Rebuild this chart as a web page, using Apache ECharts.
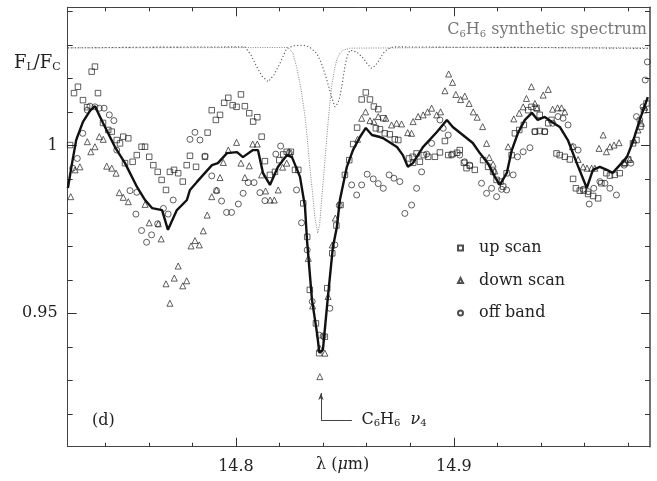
<!DOCTYPE html>
<html><head><meta charset="utf-8">
<script src="https://cdn.jsdelivr.net/npm/echarts@6/dist/echarts.min.js"></script>
<style>html,body{margin:0;padding:0;background:#fff}#c{width:657px;height:481px}</style>
</head><body><div id="c"></div>
<script>
// ---- axis ranges and ticks ----
const X_RANGE = [14.7228, 14.99];
const Y_RANGE = [0.9102, 1.0413];
const X_MINOR_TICKS = [14.74, 14.98, 0.02];   // first, last, step
const X_MAJOR_TICKS = [14.8, 14.9, 0.1];
const Y_MINOR_TICKS = [0.92, 1.04, 0.01];
const Y_MAJOR_TICKS = [0.95, 1.0, 0.05];
const X_LABELS = [14.8, 14.9];
const Y_LABELS = [0.95, 1.0];
const SERIES_NAMES = ['up scan','down scan','off band'];

// ---- up scan (squares) ----
const upScan = [
[14.7239,1.0002],[14.7257,1.0157],[14.7275,1.0176],[14.7298,1.0136],[14.7317,1.0115],[14.7338,1.0221],[14.7353,1.0236],
[14.7367,1.0157],[14.7390,1.0068],[14.7414,1.0047],[14.7430,1.0042],[14.7453,1.0017],[14.7468,1.0007],[14.7483,1.0027],
[14.7506,1.0022],[14.7491,0.9948],[14.7526,0.9952],[14.7545,0.9972],[14.7567,0.9997],[14.7583,0.9997],[14.7602,0.9967],
[14.7621,0.9942],[14.7641,0.9922],[14.7659,0.9898],[14.7679,0.9868],[14.7697,0.9922],[14.7716,0.9928],[14.7735,0.9918],
[14.7756,0.9893],[14.7774,0.9942],[14.7789,0.9970],[14.7817,0.9937],[14.7858,0.9967],[14.7870,1.0039],[14.7889,1.0106],
[14.7908,1.0077],[14.7927,1.0092],[14.7946,1.0128],[14.7965,1.0143],[14.7985,1.0121],[14.8003,1.0116],[14.8023,1.0153],
[14.8041,1.0118],[14.8061,1.0097],[14.8079,1.0072],[14.8098,1.0085],[14.8118,1.0027],[14.8133,0.9954],[14.8156,0.9913],
[14.8179,0.9922],[14.8199,0.9957],[14.8217,0.9974],[14.8233,0.9982],[14.8252,0.9982],[14.8271,0.9928],[14.8286,0.9928],
[14.8309,0.9828],[14.8327,0.9728],[14.8339,0.9570],[14.8367,0.9470],[14.8382,0.9381],[14.8408,0.9430],[14.8419,0.9575],
[14.8442,0.9679],[14.8461,0.9762],[14.8480,0.9823],[14.8500,0.9913],[14.8520,0.9957],[14.8538,1.0005],[14.8556,1.0054],
[14.8577,1.0138],[14.8596,1.0159],[14.8615,1.0138],[14.8633,1.0117],[14.8653,1.0109],[14.8642,1.0052],[14.8661,1.0049],
[14.8676,1.0082],[14.8683,1.0037],[14.8706,1.0034],[14.8729,1.0019],[14.8745,1.0017],[14.8794,0.9962],[14.8811,0.9967],
[14.8813,0.9949],[14.8829,0.9977],[14.8844,0.9952],[14.8862,0.9972],[14.8882,0.9967],[14.8913,0.9967],[14.8936,0.9980],
[14.8959,1.0014],[14.8974,0.9972],[14.8994,0.9975],[14.9015,0.9979],[14.9027,0.9987],[14.9046,0.9949],[14.9058,0.9933],
[14.9073,0.9940],[14.9096,0.9928],[14.9134,0.9957],[14.9157,0.9937],[14.9180,0.9922],[14.9196,0.9898],[14.9214,0.9893],
[14.9226,0.9878],[14.9242,0.9918],[14.9265,0.9972],[14.9280,1.0037],[14.9300,1.0047],[14.9321,1.0062],[14.9341,1.0106],
[14.9356,1.0116],[14.9379,1.0113],[14.9394,1.0092],[14.9372,1.0042],[14.9394,1.0044],[14.9417,1.0042],[14.9433,1.0067],
[14.9448,1.0077],[14.9471,0.9977],[14.9486,0.9972],[14.9509,0.9967],[14.9532,0.9959],[14.9547,0.9901],[14.9560,0.9873],
[14.9578,0.9866],[14.9596,0.9866],[14.9616,0.9856],[14.9639,0.9850],[14.9662,0.9843],[14.9677,0.9888],[14.9700,0.9918],
[14.9716,0.9911],[14.9738,0.9913],[14.9761,0.9918],[14.9784,0.9949],[14.9800,0.9959],[14.9822,1.0007],[14.9838,1.0017],
[14.9856,1.0057],[14.9872,1.0106],[14.9884,1.0126]
];

// ---- down scan (triangles) ----
const downScan = [
[14.7242,0.9848],[14.7262,0.9928],[14.7284,0.9937],[14.7318,1.0012],[14.7334,0.9982],[14.7353,0.9997],[14.7373,1.0027],
[14.7391,1.0019],[14.7407,0.9939],[14.7430,0.9933],[14.7450,0.9918],[14.7465,0.9860],[14.7483,0.9846],[14.7506,0.9833],
[14.7583,0.9825],[14.7602,0.9770],[14.7644,0.9767],[14.7657,0.9722],[14.7679,0.9588],[14.7697,0.9530],[14.7717,0.9605],
[14.7735,0.9641],[14.7756,0.9582],[14.7774,0.9597],[14.7794,0.9701],[14.7812,0.9717],[14.7832,0.9704],[14.7850,0.9746],
[14.7868,0.9793],[14.7889,0.9848],[14.7911,0.9868],[14.7927,0.9905],[14.7942,0.9950],[14.7965,0.9987],[14.8003,1.0010],
[14.8023,0.9948],[14.8041,0.9905],[14.8061,0.9940],[14.8077,1.0005],[14.8098,1.0005],[14.8118,0.9913],[14.8136,0.9865],
[14.8157,0.9838],[14.8176,0.9838],[14.8194,0.9868],[14.8214,0.9936],[14.8233,0.9948],[14.8248,0.9977],[14.8332,0.9664],
[14.8352,0.9522],[14.8385,0.9396],[14.8385,0.9311],[14.8408,0.9381],[14.8423,0.9550],[14.8442,0.9704],[14.8456,0.9784],
[14.8558,1.0019],[14.8577,1.0082],[14.8595,1.0101],[14.8615,1.0075],[14.8633,1.0072],[14.8653,1.0087],[14.8688,1.0082],
[14.8714,1.0062],[14.8737,1.0067],[14.8760,1.0065],[14.8788,1.0039],[14.8806,1.0037],[14.8813,1.0072],[14.8836,1.0087],
[14.8859,1.0092],[14.8879,1.0101],[14.8898,1.0112],[14.8921,1.0092],[14.8939,1.0101],[14.8959,1.0164],[14.8976,1.0214],
[14.8994,1.0189],[14.9009,1.0153],[14.9031,1.0138],[14.9050,1.0148],[14.9070,1.0126],[14.9089,1.0101],[14.9107,1.0085],
[14.9132,1.0057],[14.9150,1.0007],[14.9162,0.9965],[14.9180,0.9945],[14.9188,0.9925],[14.9249,0.9997],[14.9275,1.0080],
[14.9300,1.0097],[14.9318,1.0116],[14.9333,1.0141],[14.9356,1.0176],[14.9372,1.0126],[14.9382,1.0112],[14.9410,1.0151],
[14.9433,1.0168],[14.9453,1.0109],[14.9476,1.0113],[14.9494,1.0113],[14.9509,1.0101],[14.9544,0.9997],[14.9570,0.9959],
[14.9593,0.9937],[14.9611,0.9933],[14.9632,0.9933],[14.9647,0.9933],[14.9666,0.9992],[14.9685,1.0032],[14.9700,0.9982],
[14.9716,0.9997],[14.9735,1.0002],[14.9758,1.0009],[14.9784,0.9948],[14.9807,0.9959],[14.9826,1.0017],[14.9845,1.0047],
[14.9861,1.0067],[14.9876,1.0115]
];

// ---- off band (circles) ----
const offBand = [
[14.7251,0.9933],[14.7272,0.9962],[14.7297,1.0037],[14.7318,1.0106],[14.7330,1.0118],[14.7353,1.0116],[14.7373,1.0112],
[14.7395,1.0112],[14.7419,1.0092],[14.7440,1.0075],[14.7453,0.9987],[14.7514,0.9866],[14.7545,0.9861],[14.7541,0.9796],
[14.7567,0.9747],[14.7590,0.9712],[14.7613,0.9734],[14.7641,0.9767],[14.7667,0.9813],[14.7689,0.9796],[14.7712,0.9838],
[14.7789,1.0019],[14.7812,1.0040],[14.7835,1.0017],[14.7858,0.9969],[14.7889,0.9910],[14.7911,0.9866],[14.7934,0.9835],
[14.7957,0.9801],[14.7980,0.9801],[14.8011,0.9826],[14.8033,0.9858],[14.8056,0.9890],[14.8083,0.9890],[14.8110,0.9860],
[14.8133,0.9836],[14.8183,0.9975],[14.8205,0.9999],[14.8245,0.9979],[14.8278,0.9868],[14.8301,0.9770],[14.8327,0.9689],
[14.8350,0.9535],[14.8382,0.9435],[14.8400,0.9432],[14.8431,0.9515],[14.8454,0.9704],[14.8474,0.9822],[14.8531,0.9883],
[14.8554,0.9853],[14.8577,0.9883],[14.8602,0.9915],[14.8630,0.9901],[14.8653,0.9887],[14.8676,0.9873],[14.8703,0.9913],
[14.8725,0.9903],[14.8752,0.9893],[14.8775,0.9798],[14.8806,0.9823],[14.8829,0.9873],[14.8852,0.9922],[14.8875,0.9975],
[14.8898,1.0007],[14.8936,1.0077],[14.8951,1.0052],[14.8974,1.0032],[14.8989,0.9972],[14.9027,0.9972],[14.9050,0.9952],
[14.9073,0.9942],[14.9127,0.9888],[14.9150,0.9858],[14.9173,0.9873],[14.9196,0.9848],[14.9219,0.9870],[14.9242,0.9868],
[14.9272,0.9913],[14.9292,0.9967],[14.9318,0.9982],[14.9349,0.9994],[14.9372,1.0042],[14.9417,1.0042],[14.9453,1.0067],
[14.9478,1.0087],[14.9501,1.0082],[14.9524,1.0062],[14.9547,0.9997],[14.9570,0.9987],[14.9593,0.9870],[14.9616,0.9863],
[14.9621,0.9826],[14.9642,0.9873],[14.9670,0.9893],[14.9693,0.9888],[14.9716,0.9873],[14.9746,0.9853],[14.9781,0.9942],
[14.9812,0.9948],[14.9838,1.0087],[14.9853,1.0077],[14.9868,1.0116],[14.9878,1.0196],[14.9888,1.0250]
];

// ---- average (thick line) ----
const average = [
[14.7229,0.9874],[14.7248,0.9948],[14.7267,1.0017],[14.7298,1.0071],[14.7330,1.0104],[14.7353,1.0118],[14.7390,1.0068],
[14.7445,0.9996],[14.7491,0.9948],[14.7546,0.9877],[14.7583,0.9838],[14.7615,0.9814],[14.7661,0.9808],[14.7688,0.9749],
[14.7729,0.9808],[14.7775,0.9838],[14.7789,0.9868],[14.7821,0.9892],[14.7858,0.9919],[14.7890,0.9942],[14.7917,0.9948],
[14.7959,0.9978],[14.8005,0.9981],[14.8032,0.9966],[14.8078,0.9987],[14.8101,0.9987],[14.8124,0.9919],[14.8156,0.9883],
[14.8193,0.9937],[14.8234,0.9972],[14.8257,0.9966],[14.8294,0.9907],[14.8317,0.9817],[14.8326,0.9719],[14.8349,0.9540],
[14.8372,0.9441],[14.8383,0.9382],[14.8399,0.9391],[14.8422,0.9549],[14.8445,0.9698],[14.8463,0.9757],[14.8477,0.9838],
[14.8509,0.9937],[14.8537,0.9987],[14.8569,1.0026],[14.8596,1.0053],[14.8624,1.0032],[14.8661,1.0026],[14.8674,1.0023],
[14.8739,0.9996],[14.8766,0.9972],[14.8789,0.9937],[14.8812,0.9948],[14.8858,0.9996],[14.8922,1.0041],[14.8968,1.0077],
[14.8995,1.0056],[14.9041,1.0032],[14.9087,1.0008],[14.9119,0.9978],[14.9156,0.9948],[14.9188,0.9907],[14.9211,0.9883],
[14.9243,0.9919],[14.9266,0.9987],[14.9294,1.0038],[14.9326,1.0077],[14.9358,1.0098],[14.9385,1.0077],[14.9417,1.0086],
[14.9450,1.0071],[14.9486,1.0056],[14.9523,1.0017],[14.9564,0.9948],[14.9610,0.9874],[14.9638,0.9928],[14.9670,0.9937],
[14.9702,0.9928],[14.9729,0.9919],[14.9761,0.9942],[14.9794,0.9966],[14.9821,1.0011],[14.9853,1.0077],[14.9890,1.0145]
];

// ---- synthetic spectrum (two dotted curves) ----
const synthA = [
[14.7229,1.0292],[14.7606,1.0294],[14.8041,1.0295],[14.8069,1.0271],[14.8095,1.0236],[14.8119,1.0208],[14.8148,1.0191],
[14.8174,1.0211],[14.8202,1.0246],[14.8233,1.0291],[14.8271,1.0299],[14.8309,1.0300],[14.8339,1.0294],[14.8370,1.0276],
[14.8390,1.0250],[14.8408,1.0216],[14.8424,1.0181],[14.8439,1.0146],[14.8454,1.0116],[14.8468,1.0127],[14.8477,1.0146],
[14.8489,1.0190],[14.8500,1.0236],[14.8511,1.0268],[14.8523,1.0285],[14.8554,1.0280],[14.8584,1.0261],[14.8603,1.0244],
[14.8622,1.0231],[14.8638,1.0238],[14.8653,1.0251],[14.8676,1.0276],[14.8697,1.0289],[14.8722,1.0295],[14.8982,1.0294],
[14.9440,1.0293],[14.9899,1.0290]
];
const synthB = [
[14.7229,1.0292],[14.8202,1.0293],[14.8239,1.0293],[14.8261,1.0277],[14.8278,1.0236],[14.8298,1.0172],[14.8317,1.0087],
[14.8328,1.0017],[14.8339,0.9937],[14.8351,0.9862],[14.8362,0.9788],[14.8375,0.9739],[14.8384,0.9763],[14.8393,0.9838],
[14.8404,0.9922],[14.8416,1.0017],[14.8427,1.0100],[14.8439,1.0176],[14.8450,1.0220],[14.8462,1.0256],[14.8477,1.0276],
[14.8492,1.0285],[14.8523,1.0291],[14.8982,1.0293],[14.9899,1.0292]
];

// ---- annotation anchor (arrow to C6H6 nu4) ----
const ARROW_X = 14.839;
const ARROW_Y = [0.9182, 0.9262];
const ARROW_END_X = 14.8532;
const ARROW_TEXT_X = 14.8576;

const FONT = 'DejaVu Serif';
const INK = '#222';
const W = 657, H = 481;
const G = {left:67.7, right:7, top:7.3, bottom:34.3};

// tick helper grids: each spans exactly from its first to last tick on the main scale
const PW = W - G.left - G.right, PH = H - G.top - G.bottom;
const sx = v => G.left + (v - X_RANGE[0]) / (X_RANGE[1] - X_RANGE[0]) * PW;
const sy = v => G.top + (Y_RANGE[1] - v) / (Y_RANGE[1] - Y_RANGE[0]) * PH;

const grids = [Object.assign({}, G)];
const xAxes = [], yAxes = [];
function mainX(pos, labels){
  return {type:'value', gridIndex:0, position:pos, min:X_RANGE[0], max:X_RANGE[1],
    axisLine:{show:true, lineStyle:{color:'#444', width:1}}, axisTick:{show:false},
    axisLabel:{show:!!labels, customValues:labels||undefined, margin:12, color:INK, fontFamily:FONT, fontSize:16,
      formatter:v=>v.toFixed(1)}, splitLine:{show:false}};
}
function mainY(pos, labels){
  return {type:'value', gridIndex:0, position:pos, min:Y_RANGE[0], max:Y_RANGE[1],
    axisLine:{show:true, lineStyle:{color:'#444', width: pos==='right'?1.5:1}}, axisTick:{show:false},
    axisLabel:{show:!!labels, customValues:labels||undefined, margin:10, color:INK, fontFamily:FONT, fontSize:16,
      formatter:v=>(Math.abs(v-1)<1e-9?'1':String(+v.toFixed(2)))}, splitLine:{show:false}};
}
xAxes.push(mainX('bottom', X_LABELS), mainX('top', null));
yAxes.push(mainY('left', Y_LABELS), mainY('right', null));
function tickAxis(gi, pos, t, len){
  return {type:'value', gridIndex:gi, position:pos, min:t[0], max:t[1], interval:t[2],
    axisLine:{show:false}, axisLabel:{show:false}, splitLine:{show:false},
    axisTick:{show:true, inside:true, length:len, lineStyle:{color:'#333', width:1}}};
}
function tickGridX(t, len){
  const gi = grids.length;
  grids.push({left:sx(t[0]), right:W - sx(t[1]), top:G.top, bottom:G.bottom});
  xAxes.push(tickAxis(gi, 'bottom', t, len), tickAxis(gi, 'top', t, len));
  yAxes.push({type:'value', gridIndex:gi, show:false});
}
function tickGridY(t, len){
  const gi = grids.length;
  grids.push({left:G.left, right:G.right, top:sy(t[1]), bottom:H - sy(t[0])});
  yAxes.push(tickAxis(gi, 'left', t, len), tickAxis(gi, 'right', t, len));
  xAxes.push({type:'value', gridIndex:gi, show:false});
}
tickGridX(X_MINOR_TICKS, 4);
tickGridX(X_MAJOR_TICKS, 9);
tickGridY(Y_MINOR_TICKS, 5);
tickGridY(Y_MAJOR_TICKS, 9);

const chart = echarts.init(document.getElementById('c'));
const scatterBase = {type:'scatter', xAxisIndex:0, yAxisIndex:0, z:3,
  itemStyle:{color:'rgba(255,255,255,0)', borderColor:'#222', borderWidth:0.9}};

chart.setOption({
  animation:false,
  backgroundColor:'#fff',
  grid:grids, xAxis:xAxes, yAxis:yAxes,
  legend:{orient:'vertical', left:452, top:234, itemWidth:5, itemHeight:5, itemGap:14.5,
    data:SERIES_NAMES, selectedMode:false,
    textStyle:{fontFamily:FONT, fontSize:16, color:INK, lineHeight:18, padding:[0,0,0,11]}},
  series:[
    {type:'line', name:'synthA', data:synthA, showSymbol:false, symbol:'none', z:1, silent:true,
     lineStyle:{color:'#555', width:1.1, type:[1.2,2.2]}},
    {type:'line', name:'synthB', data:synthB, showSymbol:false, symbol:'none', z:1, silent:true,
     lineStyle:{color:'#777', width:0.9, type:[1,1.4]}},
    Object.assign({}, scatterBase, {name:SERIES_NAMES[0], data:upScan, symbol:'rect', symbolSize:5.5}),
    Object.assign({}, scatterBase, {name:SERIES_NAMES[1], data:downScan, symbol:'triangle', symbolSize:6}),
    Object.assign({}, scatterBase, {name:SERIES_NAMES[2], data:offBand, symbol:'circle', symbolSize:6}),
    {type:'line', name:'average', data:average, showSymbol:false, symbol:'none', z:5, silent:true,
     lineStyle:{color:'#111', width:2.4},
     markLine:{silent:true, symbol:['none','none'], label:{show:false}, lineStyle:{color:'#444', width:1, type:'solid'},
       data:[
         [{coord:[ARROW_X, ARROW_Y[0]], symbol:'none'}, {coord:[ARROW_X, ARROW_Y[1]], symbol:'arrow', symbolSize:[4,7]}],
         [{coord:[ARROW_X, ARROW_Y[0]], symbol:'none'}, {coord:[ARROW_END_X, ARROW_Y[0]], symbol:'none'}]
       ]}}
  ]
});

const pText = chart.convertToPixel({gridIndex:0}, [ARROW_TEXT_X, ARROW_Y[0]]);
chart.setOption({
  graphic:[
    {type:'text', left:14, top:54, style:{
      text:'F{s|L}/F{s|C}', fontFamily:FONT, fontSize:18, fill:INK,
      rich:{s:{fontFamily:FONT, fontSize:11, fill:INK, padding:[8,0,0,0]}}}},
    {type:'text', right:10, top:22, style:{
      text:'C{s|6}H{s|6} synthetic spectrum', fontFamily:FONT, fontSize:16, fill:'#777',
      rich:{s:{fontFamily:FONT, fontSize:10, fill:'#777', padding:[8,0,0,0]}}}},
    {type:'text', left:92, top:413, style:{text:'(d)', fontFamily:FONT, fontSize:16, fill:INK}},
    {type:'text', x:pText[0], y:pText[1], style:{
      text:'C{s|6}H{s|6}  {i|ν}{s|4}', fontFamily:FONT, fontSize:16, fill:INK, verticalAlign:'middle',
      rich:{s:{fontFamily:FONT, fontSize:10, fill:INK, padding:[8,0,0,0]},
            i:{fontFamily:FONT, fontSize:16, fontStyle:'italic', fill:INK}}}},
    {type:'text', left:316, top:457, style:{
      text:'λ ({i|μ}m)', fontFamily:FONT, fontSize:16, fill:INK,
      rich:{i:{fontFamily:FONT, fontSize:16, fontStyle:'italic', fill:INK}}}}
  ]
});
</script></body></html>
